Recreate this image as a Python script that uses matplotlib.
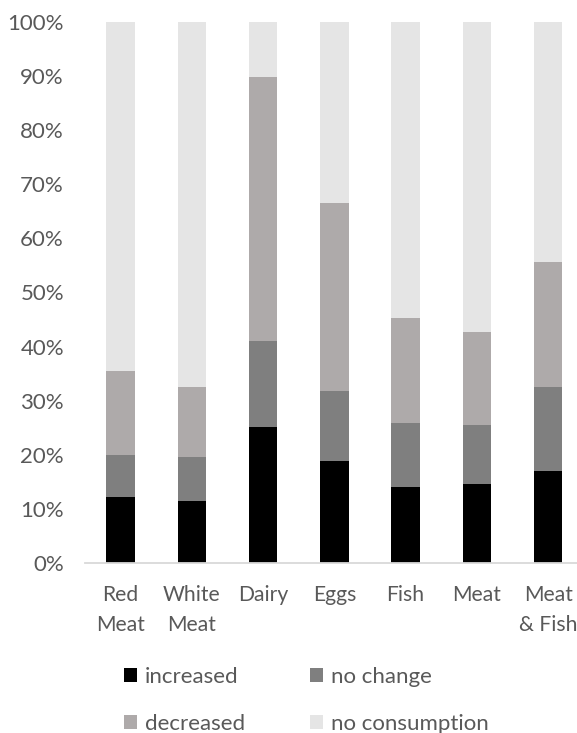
import matplotlib
matplotlib.use("Agg")
import matplotlib.pyplot as plt
import numpy as np
from matplotlib.patches import Patch

categories = ["Red\nMeat", "White\nMeat", "Dairy", "Eggs", "Fish", "Meat", "Meat\n& Fish"]
series_names = ["increased", "no change", "decreased", "no consumption"]
increased = [12.2, 11.5, 25.1, 18.9, 14.1, 14.6, 17.0]
no_change = [7.7, 8.1, 15.9, 12.8, 11.7, 10.9, 15.6]
decreased = [15.6, 13.0, 48.8, 34.9, 19.4, 17.1, 23.0]
no_consumption = [64.5, 67.4, 10.2, 33.4, 54.8, 57.4, 44.4]
yticks = [0, 10, 20, 30, 40, 50, 60, 70, 80, 90, 100]
colors = ["#000000", "#7f7f7f", "#aeaaaa", "#e5e5e5"]

plt.rcParams['font.family'] = ['Lato', 'DejaVu Sans']
FS = 16

fig = plt.figure(figsize=(5.77, 7.33), dpi=100)
W, H = 577, 733
left, right = 84.8, 583.9
bottom, top = 562.7, 22.3
ax = fig.add_axes([left / W, 1 - bottom / H, (right - left) / W, (bottom - top) / H])

x = np.arange(len(categories))
data = [increased, no_change, decreased, no_consumption]
base = np.zeros(len(categories))
handles = []
for vals, c, name in zip(data, colors, series_names):
    ax.bar(x, vals, width=0.397, bottom=base, color=c, label=name, zorder=2)
    handles.append(Patch(facecolor=c, edgecolor="none"))
    base += np.array(vals)

ax.set_xlim(-0.5, len(categories) - 0.5)
ax.set_ylim(0, 100)
ax.set_yticks(yticks)
ax.set_yticklabels([f"{t}%" for t in yticks])
ax.set_xticks(x)
ax.set_xticklabels(categories, linespacing=1.62, fontsize=15.2)
for s in ["top", "right", "left"]:
    ax.spines[s].set_visible(False)
ax.spines["bottom"].set_color("#d9d9d9")
ax.spines["bottom"].set_linewidth(1.3)
ax.tick_params(axis="both", length=0, colors="#595959")
ax.tick_params(axis="y", pad=15, labelsize=FS)
ax.tick_params(axis="x", pad=16)

# two legend columns: (increased, decreased) and (no change, no consumption)
common = dict(loc="center left", ncol=1, frameon=False, fontsize=FS, labelcolor="#595959",
              handlelength=0.59, handleheight=0.59, handletextpad=0.35,
              labelspacing=1.2, borderpad=0, borderaxespad=0)
leg1 = fig.legend([handles[0], handles[2]], [series_names[0], series_names[2]],
                  bbox_to_anchor=(124 / W, 1 - 700.5 / H), **common)
leg2 = fig.legend([handles[1], handles[3]], [series_names[1], series_names[3]],
                  bbox_to_anchor=(310 / W, 1 - 700.5 / H), **common)

fig.savefig("out.png", dpi=100)
